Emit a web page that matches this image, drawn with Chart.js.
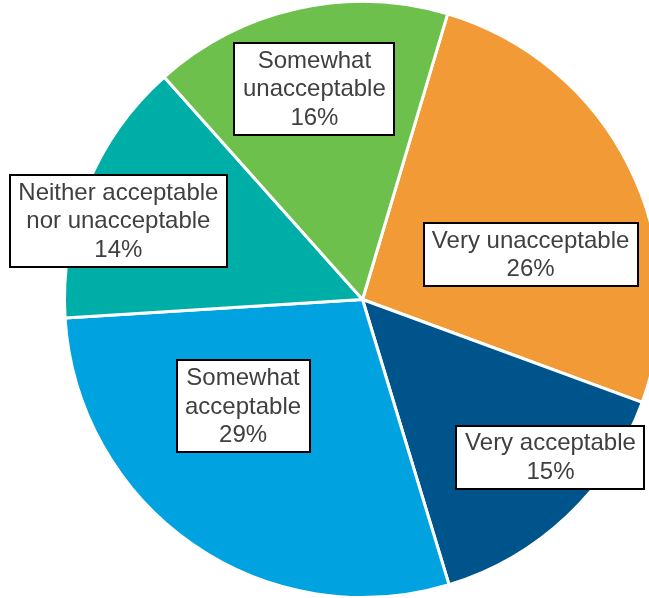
<!DOCTYPE html>
<html>
<head>
<meta charset="utf-8">
<script src="https://cdn.jsdelivr.net/npm/chart.js@4.4.0/dist/chart.umd.min.js"></script>
<style>
  html, body { margin: 0; padding: 0; background: #ffffff; overflow: hidden; width: 649px; height: 598px; }
  #wrap { position: absolute; left: 0; top: 0; width: 730px; height: 600px; }
</style>
</head>
<body>
<div id="wrap"><canvas id="c"></canvas></div>
<script>
// ---- data ----
const categories = [
  "Very unacceptable",
  "Very acceptable",
  "Somewhat acceptable",
  "Neither acceptable nor unacceptable",
  "Somewhat unacceptable"
];
const labelLines = [
  ["Very unacceptable"],
  ["Very acceptable"],
  ["Somewhat", "acceptable"],
  ["Neither acceptable", "nor unacceptable"],
  ["Somewhat", "unacceptable"]
];
const shares = [26.0, 14.7, 28.7, 14.4, 16.2];
const sliceColors = ["#F29B36", "#00548C", "#00A3E0", "#00AEA8", "#6CC04B"];

// ---- label placement (style, not data): radial fraction and angle shift in degrees ----
const labelPlacement = [
  { frac: 0.584, shift: 11.6 },
  { frac: 0.823, shift: -6.7 },
  { frac: 0.537, shift: 13.5 },
  { frac: 0.861, shift: -4.45 },
  { frac: 0.725, shift: -0.3 }
];

const boxLabels = {
  id: 'boxLabels',
  afterDatasetsDraw(chart) {
    const ctx = chart.ctx;
    const meta = chart.getDatasetMeta(0);
    const fontSize = 24;
    const lineH = 28.5;
    ctx.save();
    ctx.font = fontSize + 'px "Liberation Sans", Arial, sans-serif';
    ctx.textAlign = 'center';
    ctx.textBaseline = 'middle';
    meta.data.forEach((arc, i) => {
      const p = arc.getProps(['x', 'y', 'startAngle', 'endAngle', 'outerRadius'], true);
      const mid = (p.startAngle + p.endAngle) / 2 + labelPlacement[i].shift * Math.PI / 180;
      const r = p.outerRadius * labelPlacement[i].frac;
      const cx = p.x + Math.cos(mid) * r;
      const cy = p.y + Math.sin(mid) * r;
      const lines = labelLines[i].concat([Math.round(shares[i]) + '%']);
      let w = 0;
      lines.forEach(l => { w = Math.max(w, ctx.measureText(l).width); });
      const bw = Math.round(w + 17);
      const bh = Math.round(lines.length * lineH + 6);
      const bx = Math.round(cx - bw / 2);
      const by = Math.round(cy - bh / 2);
      ctx.fillStyle = '#ffffff';
      ctx.fillRect(bx, by, bw, bh);
      ctx.lineWidth = 2;
      ctx.strokeStyle = '#000000';
      ctx.strokeRect(bx, by, bw, bh);
      ctx.fillStyle = '#404040';
      const top = cy - (lines.length - 1) * lineH / 2;
      lines.forEach((l, k) => {
        ctx.fillText(l, cx, top + k * lineH + 1);
      });
    });
    ctx.restore();
  }
};

new Chart(document.getElementById('c'), {
  type: 'pie',
  data: {
    labels: categories,
    datasets: [{
      data: shares,
      backgroundColor: sliceColors,
      borderColor: '#ffffff',
      borderWidth: 3,
      hoverBorderWidth: 3
    }]
  },
  options: {
    responsive: true,
    maintainAspectRatio: false,
    animation: false,
    rotation: 16.6,
    layout: { padding: { left: 63, right: 68, top: 0, bottom: 1 } },
    plugins: {
      legend: { display: false },
      tooltip: { enabled: false }
    }
  },
  plugins: [boxLabels]
});
</script>
</body>
</html>
